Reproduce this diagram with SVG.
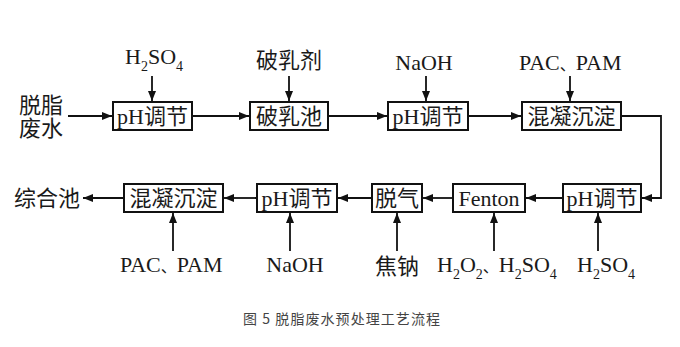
<svg xmlns="http://www.w3.org/2000/svg" width="680" height="347" viewBox="0 0 680 347">
<style>
.t{font-family:"Liberation Serif","Noto Sans CJK SC",serif;font-size:22px;fill:#1a1a1a}
.box{fill:#fff;stroke:#111;stroke-width:2}
.ln{fill:none;stroke:#111;stroke-width:1.8}
.sub{font-size:14px}
.dun{font-size:16px}
.cap{font-family:"Noto Sans CJK SC","DejaVu Sans",sans-serif;font-size:14px;fill:#444}
</style>
<defs>
<marker id="ah" markerUnits="userSpaceOnUse" markerWidth="10" markerHeight="8" refX="10" refY="4" orient="auto">
<path d="M0,0 L10,4 L0,8 z" fill="#111"/>
</marker>
</defs>
<rect width="680" height="347" fill="#fff"/>
<g id="connectors">
<line class="ln" x1="68" y1="116" x2="112" y2="116" marker-end="url(#ah)"/>
<line class="ln" x1="193" y1="116" x2="249" y2="116" marker-end="url(#ah)"/>
<line class="ln" x1="329" y1="116" x2="387" y2="116" marker-end="url(#ah)"/>
<line class="ln" x1="469" y1="116" x2="521" y2="116" marker-end="url(#ah)"/>
<polyline class="ln" points="622,116 661,116 661,198 642,198" marker-end="url(#ah)"/>
<line class="ln" x1="562" y1="198" x2="526" y2="198" marker-end="url(#ah)"/>
<line class="ln" x1="452" y1="198" x2="423" y2="198" marker-end="url(#ah)"/>
<line class="ln" x1="371" y1="198" x2="338" y2="198" marker-end="url(#ah)"/>
<line class="ln" x1="256" y1="198" x2="224" y2="198" marker-end="url(#ah)"/>
<line class="ln" x1="123" y1="198" x2="83" y2="198" marker-end="url(#ah)"/>
<line class="ln" x1="152" y1="76" x2="152" y2="101" marker-end="url(#ah)"/>
<line class="ln" x1="289" y1="76" x2="289" y2="101" marker-end="url(#ah)"/>
<line class="ln" x1="426" y1="76" x2="426" y2="101" marker-end="url(#ah)"/>
<line class="ln" x1="570" y1="76" x2="570" y2="101" marker-end="url(#ah)"/>
<line class="ln" x1="173" y1="251" x2="173" y2="213" marker-end="url(#ah)"/>
<line class="ln" x1="290" y1="251" x2="290" y2="213" marker-end="url(#ah)"/>
<line class="ln" x1="397" y1="251" x2="397" y2="213" marker-end="url(#ah)"/>
<line class="ln" x1="494" y1="251" x2="494" y2="213" marker-end="url(#ah)"/>
<line class="ln" x1="598" y1="251" x2="598" y2="213" marker-end="url(#ah)"/>
</g>
<g id="input">
<text class="t" x="41" y="113" text-anchor="middle">脱脂</text>
<text class="t" x="41" y="136" text-anchor="middle">废水</text>
</g>
<g id="ph1"><rect class="box" x="113" y="102" width="79" height="28"/><text class="t" x="152.5" y="124" text-anchor="middle">pH调节</text></g>
<g id="poru"><rect class="box" x="250" y="102" width="78" height="28"/><text class="t" x="289" y="124" text-anchor="middle">破乳池</text></g>
<g id="ph2"><rect class="box" x="388" y="102" width="80" height="28"/><text class="t" x="428" y="124" text-anchor="middle">pH调节</text></g>
<g id="hn1"><rect class="box" x="522" y="102" width="99" height="28"/><text class="t" x="571.5" y="124" text-anchor="middle">混凝沉淀</text></g>
<g id="ph3"><rect class="box" x="563" y="184" width="78" height="28"/><text class="t" x="602" y="206" text-anchor="middle">pH调节</text></g>
<g id="fenton"><rect class="box" x="453" y="184" width="72" height="28"/><text class="t" x="489" y="206" text-anchor="middle">Fenton</text></g>
<g id="tuoqi"><rect class="box" x="372" y="184" width="50" height="28"/><text class="t" x="397" y="206" text-anchor="middle">脱气</text></g>
<g id="ph4"><rect class="box" x="257" y="184" width="80" height="28"/><text class="t" x="297" y="206" text-anchor="middle">pH调节</text></g>
<g id="hn2"><rect class="box" x="124" y="184" width="99" height="28"/><text class="t" x="173.5" y="206" text-anchor="middle">混凝沉淀</text></g>
<g id="output"><text class="t" x="47" y="206" text-anchor="middle">综合池</text></g>
<g id="labels">
<text class="t" x="125" y="64">H<tspan class="sub" dy="7">2</tspan><tspan dy="-7">SO</tspan><tspan class="sub" dy="7">4</tspan></text>
<text class="t" x="289" y="68" text-anchor="middle">破乳剂</text>
<text class="t" x="424" y="70" text-anchor="middle">NaOH</text>
<text class="t" x="519" y="70">PAC<tspan class="dun">、</tspan>PAM</text>
<text class="t" x="120" y="272">PAC<tspan class="dun">、</tspan>PAM</text>
<text class="t" x="295" y="272" text-anchor="middle">NaOH</text>
<text class="t" x="397" y="274" text-anchor="middle">焦钠</text>
<text class="t" x="437" y="272">H<tspan class="sub" dy="7">2</tspan><tspan dy="-7">O</tspan><tspan class="sub" dy="7">2</tspan><tspan class="dun" dy="-7">、</tspan>H<tspan class="sub" dy="7">2</tspan><tspan dy="-7">SO</tspan><tspan class="sub" dy="7">4</tspan></text>
<text class="t" x="577" y="272">H<tspan class="sub" dy="7">2</tspan><tspan dy="-7">SO</tspan><tspan class="sub" dy="7">4</tspan></text>
</g>
<g id="caption"><text class="cap" x="243" y="324" textLength="197" lengthAdjust="spacing">图 5 脱脂废水预处理工艺流程</text></g>
</svg>
